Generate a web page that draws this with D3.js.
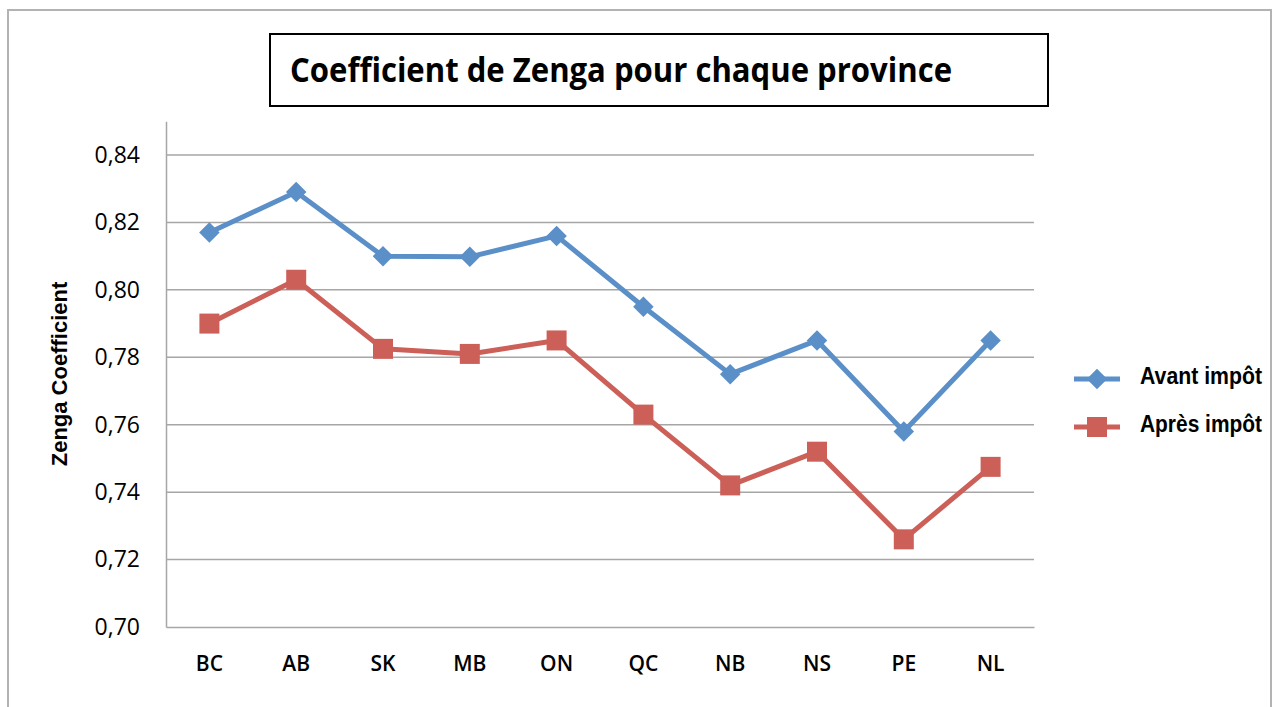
<!DOCTYPE html>
<html>
<head>
<meta charset="utf-8">
<script src="https://cdn.jsdelivr.net/npm/d3@7"></script>
<style>
  body { margin: 0; background: #fff; }
</style>
</head>
<body>
<svg id="chart"></svg>
<script>
const W = 1273;
const H = 707;

const provinces = ["BC", "AB", "SK", "MB", "ON", "QC", "NB", "NS", "PE", "NL"];
const avantImpot = [0.817, 0.829, 0.810, 0.8098, 0.816, 0.795, 0.775, 0.785, 0.758, 0.785];
const apresImpot = [0.790, 0.803, 0.7825, 0.781, 0.785, 0.763, 0.742, 0.752, 0.726, 0.7475];
const yTicks = [0.70, 0.72, 0.74, 0.76, 0.78, 0.80, 0.82, 0.84];
const seriesNames = ["Avant impôt", "Après impôt"];

const blue = "#5b8fc8";
const red = "#cc5f58";
const grid = "#a6a6a6";

let svg = d3.select("#chart").attr("width", W).attr("height", H);

// outer frame + title box
svg.append("rect").attr("x", 8).attr("y", 10).attr("width", 1263).attr("height", 720)
	.attr("fill", "none").attr("stroke", "#b3b3b3").attr("stroke-width", 2);
svg.append("rect").attr("x", 270).attr("y", 34).attr("width", 778).attr("height", 72)
	.attr("fill", "#fff").attr("stroke", "#000").attr("stroke-width", 2);
svg.append("text").attr("x", 290).attr("y", 82)
	.attr("textLength", 662).attr("lengthAdjust", "spacingAndGlyphs")
	.style("font", "700 34px 'Open Sans', sans-serif")
	.text("Coefficient de Zenga pour chaque province");

let x = d3.scaleBand().domain(provinces).range([166, 1034]).padding(0);
let y = d3.scaleLinear().domain([0.70, 0.85]).range([627, 121.3]);
let cx = d => x(d) + x.bandwidth() / 2;

// gridlines
svg.append("g").selectAll("line").data(yTicks.slice(1)).enter().append("line")
	.attr("x1", 166).attr("x2", 1034)
	.attr("y1", d => y(d)).attr("y2", d => y(d))
	.attr("stroke", grid).attr("stroke-width", 1.5);

// y axis
let yAxis = svg.append("g").attr("transform", "translate(166,0)")
	.call(d3.axisLeft(y).tickValues(yTicks).tickSize(0).tickPadding(26)
		.tickFormat(d => d3.format(".2f")(d).replace(".", ",")));
yAxis.select(".domain").attr("stroke", grid).attr("stroke-width", 1.5);
yAxis.selectAll("text").style("font", "400 23px 'Open Sans', sans-serif").attr("fill", "#000");

// x axis
let xAxis = svg.append("g").attr("transform", "translate(0,627)")
	.call(d3.axisBottom(x).tickSize(0).tickPadding(29));
xAxis.select(".domain").attr("stroke", grid).attr("stroke-width", 1.5);
xAxis.selectAll("text").style("font", "600 21px 'Open Sans', sans-serif").attr("fill", "#000");

svg.append("text").attr("transform", "translate(67,374) rotate(-90)")
	.attr("text-anchor", "middle")
	.style("font", "700 22px 'Liberation Sans', Arial, sans-serif")
	.text("Zenga Coefficient");

// series
let series = [
	{ name: seriesNames[0], values: avantImpot, color: blue, shape: "diamond" },
	{ name: seriesNames[1], values: apresImpot, color: red, shape: "square" }
];
let line = d3.line().x((d, i) => cx(provinces[i])).y(d => y(d));

function marker(sel, shape, color) {
	// diamond = rotated square
	let size = shape == "diamond" ? 210 : 400;
	sel.attr("d", d3.symbol(d3.symbolSquare, size)()).attr("fill", color);
}

series.forEach(s => {
	svg.append("path").attr("d", line(s.values))
		.attr("fill", "none").attr("stroke", s.color).attr("stroke-width", 5)
		.attr("stroke-linejoin", "round");
	svg.append("g").selectAll("path").data(s.values).enter().append("path")
		.attr("transform", (d, i) => "translate(" + cx(provinces[i]) + "," + y(d) + ")" + (s.shape == "diamond" ? " rotate(45)" : ""))
		.call(marker, s.shape, s.color);
});

// legend
let legend = svg.append("g").selectAll("g").data(series).enter().append("g")
	.attr("transform", (d, i) => "translate(1074," + (379 + i * 48) + ")");
legend.append("line").attr("x1", 0).attr("x2", 46)
	.attr("stroke", d => d.color).attr("stroke-width", 5);
legend.append("path")
	.attr("transform", d => "translate(23,0)" + (d.shape == "diamond" ? " rotate(45)" : ""))
	.each(function(d) { d3.select(this).call(marker, d.shape, d.color); });
legend.append("text").attr("x", 66).attr("y", 5)
	.attr("textLength", 122).attr("lengthAdjust", "spacingAndGlyphs")
	.style("font", "700 23px 'Liberation Sans', Arial, sans-serif")
	.text(d => d.name);
</script>
</body>
</html>
